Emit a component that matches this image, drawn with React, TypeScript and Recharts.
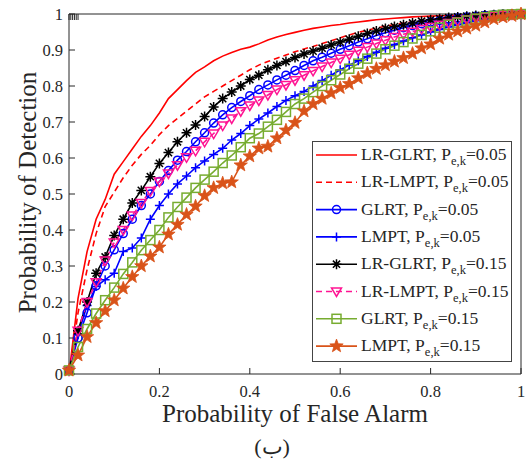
import React from 'react'
import { LineChart, Line, XAxis, YAxis } from 'recharts'

const fpr = [
  0, 0.02, 0.04, 0.06, 0.08, 0.1, 0.12, 0.14, 0.16, 0.18, 0.2, 0.22, 0.24, 0.26, 0.28, 0.3, 0.32,
  0.34, 0.36, 0.38, 0.4, 0.42, 0.44, 0.46, 0.48, 0.5, 0.52, 0.54, 0.56, 0.58, 0.6, 0.62, 0.64,
  0.66, 0.68, 0.7, 0.72, 0.74, 0.76, 0.78, 0.8, 0.82, 0.84, 0.86, 0.88, 0.9, 0.92, 0.94, 0.96,
  0.98, 1,
]

const lrGlrt05 = [
  0, 0.21, 0.34, 0.43, 0.485, 0.555, 0.59, 0.625, 0.66, 0.69, 0.725, 0.765, 0.79, 0.815, 0.838,
  0.853, 0.87, 0.883, 0.893, 0.902, 0.908, 0.917, 0.928, 0.936, 0.943, 0.949, 0.955, 0.96, 0.964,
  0.968, 0.971, 0.975, 0.978, 0.981, 0.984, 0.986, 0.988, 0.99, 0.992, 0.993, 0.994, 0.995, 0.996,
  0.997, 0.998, 0.998, 0.999, 0.999, 1, 1, 1,
]
const lrLmpt05 = [
  0, 0.17, 0.29, 0.39, 0.465, 0.505, 0.545, 0.58, 0.61, 0.635, 0.665, 0.69, 0.71, 0.73, 0.75,
  0.77, 0.785, 0.8, 0.815, 0.83, 0.845, 0.858, 0.868, 0.877, 0.886, 0.895, 0.903, 0.91, 0.918,
  0.926, 0.934, 0.942, 0.949, 0.955, 0.961, 0.966, 0.971, 0.975, 0.979, 0.983, 0.986, 0.989, 0.991,
  0.993, 0.995, 0.997, 0.998, 0.999, 1, 1, 1,
]
const glrt05 = [
  0.01, 0.1, 0.17, 0.245, 0.3, 0.345, 0.39, 0.43, 0.468, 0.5, 0.535, 0.565, 0.594, 0.618, 0.645,
  0.67, 0.697, 0.72, 0.74, 0.757, 0.773, 0.79, 0.803, 0.817, 0.83, 0.843, 0.857, 0.87, 0.88, 0.891,
  0.902, 0.912, 0.922, 0.931, 0.94, 0.948, 0.955, 0.962, 0.968, 0.973, 0.978, 0.982, 0.986, 0.989,
  0.992, 0.994, 0.996, 0.998, 0.999, 1, 1,
]
const lmpt05 = [
  0.01, 0.11, 0.19, 0.243, 0.262, 0.28, 0.34, 0.35, 0.378, 0.43, 0.468, 0.5, 0.528, 0.55, 0.573,
  0.592, 0.61, 0.627, 0.65, 0.668, 0.69, 0.708, 0.725, 0.743, 0.76, 0.773, 0.785, 0.8, 0.815, 0.83,
  0.845, 0.858, 0.87, 0.882, 0.894, 0.905, 0.915, 0.925, 0.934, 0.942, 0.95, 0.957, 0.964, 0.97,
  0.976, 0.981, 0.986, 0.99, 0.994, 0.997, 1,
]
const lrGlrt15 = [
  0.01, 0.12, 0.2, 0.28, 0.325, 0.385, 0.43, 0.475, 0.51, 0.548, 0.585, 0.615, 0.645, 0.67, 0.692,
  0.715, 0.742, 0.765, 0.783, 0.8, 0.818, 0.83, 0.845, 0.857, 0.868, 0.879, 0.889, 0.897, 0.905,
  0.914, 0.922, 0.93, 0.938, 0.946, 0.953, 0.96, 0.965, 0.97, 0.975, 0.98, 0.984, 0.987, 0.99,
  0.992, 0.994, 0.996, 0.997, 0.998, 0.999, 1, 1,
]
const lrLmpt15 = [
  0.01, 0.12, 0.2, 0.255, 0.315, 0.365, 0.4, 0.44, 0.475, 0.508, 0.535, 0.557, 0.58, 0.602, 0.62,
  0.645, 0.668, 0.69, 0.71, 0.73, 0.746, 0.76, 0.775, 0.79, 0.803, 0.816, 0.83, 0.842, 0.854, 0.865,
  0.876, 0.887, 0.898, 0.908, 0.918, 0.927, 0.936, 0.944, 0.951, 0.958, 0.964, 0.97, 0.975, 0.98,
  0.985, 0.989, 0.992, 0.995, 0.997, 0.999, 1,
]
const glrt15 = [
  0.01, 0.075, 0.125, 0.168, 0.205, 0.24, 0.278, 0.31, 0.344, 0.372, 0.4, 0.435, 0.464, 0.49, 0.517,
  0.54, 0.562, 0.586, 0.607, 0.63, 0.655, 0.668, 0.687, 0.706, 0.728, 0.75, 0.765, 0.783, 0.8, 0.816,
  0.832, 0.848, 0.862, 0.876, 0.89, 0.902, 0.912, 0.922, 0.932, 0.942, 0.952, 0.962, 0.97, 0.976,
  0.982, 0.987, 0.991, 0.995, 0.998, 0.999, 1,
]
const lmpt15 = [
  0.01, 0.052, 0.103, 0.142, 0.175, 0.205, 0.238, 0.27, 0.3, 0.327, 0.352, 0.388, 0.415, 0.443,
  0.466, 0.495, 0.517, 0.53, 0.533, 0.58, 0.605, 0.627, 0.632, 0.655, 0.677, 0.698, 0.73, 0.75,
  0.765, 0.78, 0.795, 0.806, 0.822, 0.836, 0.848, 0.858, 0.868, 0.878, 0.89, 0.905, 0.916, 0.932,
  0.943, 0.952, 0.96, 0.968, 0.977, 0.986, 0.991, 0.995, 1,
]

const xTicks = [0, 0.2, 0.4, 0.6, 0.8, 1]
const yTicks = [0, 0.1, 0.2, 0.3, 0.4, 0.5, 0.6, 0.7, 0.8, 0.9, 1]

const series = [
  { key: 'lrGlrt05', values: lrGlrt05, label: 'LR-GLRT, P', pe: '=0.05', color: '#ff0000', dash: undefined, marker: '' },
  { key: 'lrLmpt05', values: lrLmpt05, label: 'LR-LMPT, P', pe: '=0.05', color: '#ff0000', dash: '6 4', marker: '' },
  { key: 'glrt05', values: glrt05, label: 'GLRT, P', pe: '=0.05', color: '#0000ff', dash: undefined, marker: 'circle' },
  { key: 'lmpt05', values: lmpt05, label: 'LMPT, P', pe: '=0.05', color: '#0000ff', dash: undefined, marker: 'plus' },
  { key: 'lrGlrt15', values: lrGlrt15, label: 'LR-GLRT, P', pe: '=0.15', color: '#000000', dash: undefined, marker: 'asterisk' },
  { key: 'lrLmpt15', values: lrLmpt15, label: 'LR-LMPT, P', pe: '=0.15', color: '#ff1493', dash: '6 4', marker: 'triangle' },
  { key: 'glrt15', values: glrt15, label: 'GLRT, P', pe: '=0.15', color: '#77ac30', dash: undefined, marker: 'square' },
  { key: 'lmpt15', values: lmpt15, label: 'LMPT, P', pe: '=0.15', color: '#d95319', dash: undefined, marker: 'star' },
]

const rows = fpr.map((x, i) => {
  const row: Record<string, number> = { x }
  series.forEach((s) => (row[s.key] = s.values[i]))
  return row
})

const FONT = '"Liberation Serif", "Times New Roman", serif'
const INK = '#262626'

function Marker({ shape, color, cx, cy }: { shape: string; color: string; cx: number; cy: number }) {
  const sw = 1.5
  if (shape === 'circle') return <circle cx={cx} cy={cy} r={4} fill="none" stroke={color} strokeWidth={sw} />
  if (shape === 'plus')
    return <path d={`M${cx - 4.5},${cy}h9M${cx},${cy - 4.5}v9`} stroke={color} strokeWidth={sw} fill="none" />
  if (shape === 'asterisk')
    return (
      <path
        d={`M${cx - 5},${cy}h10M${cx},${cy - 5}v10M${cx - 3.6},${cy - 3.6}l7.2,7.2M${cx - 3.6},${cy + 3.6}l7.2,-7.2`}
        stroke={color}
        strokeWidth={sw}
        fill="none"
      />
    )
  if (shape === 'triangle')
    return (
      <polygon
        points={`${cx - 5},${cy - 3.5} ${cx + 5},${cy - 3.5} ${cx},${cy + 5}`}
        fill="none"
        stroke={color}
        strokeWidth={sw}
      />
    )
  if (shape === 'square')
    return <rect x={cx - 4.5} y={cy - 4.5} width={9} height={9} fill="none" stroke={color} strokeWidth={sw} />
  if (shape === 'star') {
    const pts: string[] = []
    for (let k = 0; k < 10; k++) {
      const r = k % 2 === 0 ? 7 : 2.9
      const a = -Math.PI / 2 + (k * Math.PI) / 5
      pts.push(`${cx + r * Math.cos(a)},${cy + r * Math.sin(a)}`)
    }
    return <polygon points={pts.join(' ')} fill={color} stroke={color} strokeWidth={0.8} />
  }
  return null
}

function LegendBox() {
  const step = 27.3
  return (
    <svg width={200} height={221} style={{ position: 'absolute', left: 312, top: 141 }}>
      <rect x={0.5} y={0.5} width={199} height={220} fill="#fff" stroke="#444" strokeWidth={1} />
      {series.map((s, i) => {
        const y = 14 + i * step
        return (
          <g key={s.key}>
            <line x1={4} x2={45} y1={y} y2={y} stroke={s.color} strokeWidth={1.6} strokeDasharray={s.dash} />
            {s.marker && <Marker shape={s.marker} color={s.color} cx={24.5} cy={y} />}
            <text x={49} y={y + 5} fontFamily={FONT} fontSize={17.5} fill={INK}>
              {s.label}
              <tspan fontSize={12.5} dy={5}>e,k</tspan>
              <tspan dy={-5}>{s.pe}</tspan>
            </text>
          </g>
        )
      })}
    </svg>
  )
}

export default function App() {
  const tickStyle = { fill: INK, fontSize: 16.5, fontFamily: FONT }
  return (
    <div style={{ position: 'absolute', left: 0, top: 0, width: 526, height: 459, background: '#fff' }}>
      <LineChart width={526} height={459} data={rows} margin={{ top: 13, right: 4, bottom: 55, left: 29 }}>
        <XAxis
          dataKey="x"
          type="number"
          domain={[0, 1]}
          ticks={xTicks}
          interval={0}
          height={30}
          tickSize={-6}
          tickMargin={17}
          axisLine={{ stroke: INK }}
          tickLine={{ stroke: INK }}
          tick={tickStyle}
        />
        <XAxis
          xAxisId="top"
          orientation="top"
          type="number"
          domain={[0, 1]}
          ticks={xTicks}
          interval={0}
          height={1}
          tickSize={-6}
          axisLine={{ stroke: INK }}
          tickLine={{ stroke: INK }}
          tickFormatter={() => ''}
        />
        <YAxis
          type="number"
          domain={[0, 1]}
          ticks={yTicks}
          interval={0}
          width={40}
          tickSize={-6}
          tickMargin={12}
          axisLine={{ stroke: INK }}
          tickLine={{ stroke: INK }}
          tick={tickStyle}
        />
        <YAxis
          yAxisId="right"
          orientation="right"
          type="number"
          domain={[0, 1]}
          ticks={yTicks}
          interval={0}
          width={1}
          tickSize={-6}
          axisLine={{ stroke: INK }}
          tickLine={{ stroke: INK }}
          tickFormatter={() => ''}
        />
        {series.map((s) => (
          <Line
            key={s.key}
            dataKey={s.key}
            type="linear"
            stroke={s.color}
            strokeWidth={1.6}
            strokeDasharray={s.dash}
            isAnimationActive={false}
            activeDot={false}
            dot={
              s.marker
                ? (p: any) => <Marker key={`${s.key}-${p.index}`} shape={s.marker} color={s.color} cx={p.cx} cy={p.cy} />
                : false
            }
          />
        ))}
      </LineChart>
      <svg width={526} height={459} style={{ position: 'absolute', left: 0, top: 0, pointerEvents: 'none' }}>
        <text x={295} y={422} textAnchor="middle" fontFamily={FONT} fontSize={25} fill={INK}>
          Probability of False Alarm
        </text>
        <text
          transform="translate(36,192.5) rotate(-90)"
          textAnchor="middle"
          fontFamily={FONT}
          fontSize={25}
          fill={INK}
        >
          Probability of Detection
        </text>
        <text x={272} y={454} textAnchor="middle" fontFamily={FONT} fontSize={22} fill={INK}>
          (ب)
        </text>
      </svg>
      <LegendBox />
    </div>
  )
}
